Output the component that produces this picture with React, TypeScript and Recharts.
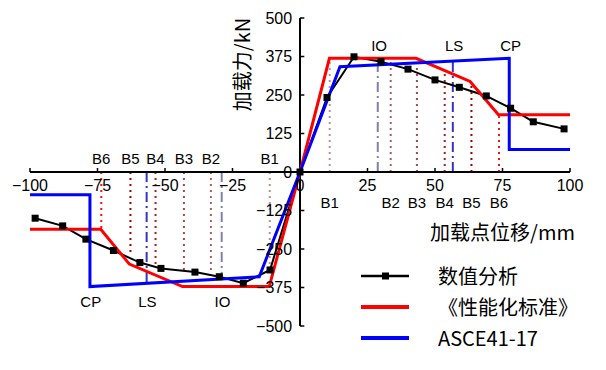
import { LineChart, Line, XAxis, YAxis, ReferenceLine, ReferenceDot, Legend } from 'recharts';

// numerical analysis curve (mm, kN)
const simX = [-98.1, -87.9, -79.3, -69.1, -59.3, -51.5, -38.9, -29.9, -21, -11.1, 0, 10, 20, 30, 40, 50, 59, 69, 78, 86.4, 97.8];
const simY = [-150, -175, -218, -255, -294, -313, -325, -340, -361, -318, 0, 242, 374, 358, 334, 299, 275, 247, 207, 163, 140];

// 《性能化标准》 backbone
const codeX = [-100, -73.8, -63.2, -43.5, -11.4, 0, 10.9, 43, 63, 73.5, 100];
const codeY = [-186, -186, -299, -372, -372, 0, 369, 369, 294, 186, 186];

// ASCE41-17 backbone
const asceX = [-100, -77.8, -77.8, -15.1, 0, 14.8, 77.5, 77.5, 100];
const asceY = [-74, -74, -372, -340, 0, 342, 369, 73, 73];

const xTicks = [-100, -75, -50, -25, 0, 25, 50, 75, 100];
const xTickLabels = ['−100', '−75', '−50', '−25', '0', '25', '50', '75', '100'];
const yTicks = [-500, -375, -250, -125, 0, 125, 250, 375, 500];
const yTickLabels = ['−500', '−375', '−250', '−125', '0', '125', '250', '375', '500'];

// B1..B6 limit states
const bNames = ['B1', 'B2', 'B3', 'B4', 'B5', 'B6'];
const bPosX = [11, 33.6, 43.3, 53.6, 63.5, 73.7];
const bPosTop = [369, 369, 369, 330, 292, 188];
const bNegX = [-11.2, -33, -43, -53.5, -62.8, -73.6];
const bNegBottom = [-318, -331, -320, -305, -272, -186];
const bColors = ['#bc8f8f', '#a86060', '#a44848', '#a82020', '#a00000', '#ff1010'];

// ASCE performance levels
const levelNames = ['IO', 'LS', 'CP'];
const levelPosX = [28.8, 56.6, 77.5];
const levelPosTop = [352, 364];
const levelNegX = [-29, -56.8, -77.8];
const levelNegBottom = [-348, -360];
const levelColors = ['#8080b0', '#3535c0'];

const legendNames = ['数值分析', '《性能化标准》', 'ASCE41-17'];
const legendColors = ['#000000', '#ff0000', '#0000ff'];

const toPts = (xs: number[], ys: number[]) => xs.map((x, i) => ({ x, y: ys[i] }));
const simData = toPts(simX, simY);
const codeData = toPts(codeX, codeY);
const asceData = toPts(asceX, asceY);

const numFont = '"Liberation Sans", Arial, sans-serif';
const cjkFont = '"Noto Sans CJK SC", sans-serif';

const textShape = (label: string, anchor: string, size = 16, font = numFont, rotate = 0) => (p: any) => (
  <text
    x={p.cx}
    y={p.cy}
    textAnchor={anchor}
    dominantBaseline="central"
    fontSize={size}
    fontFamily={font}
    fill="#000"
    transform={rotate ? `rotate(${rotate} ${p.cx} ${p.cy})` : undefined}
  >
    {label}
  </text>
);

const SquareDot = (p: any) => (
  <rect key={`d-${p.index}`} x={p.cx - 3.5} y={p.cy - 3.5} width={7} height={7} fill="#000" />
);

const renderLegend = () => (
  <div style={{ fontFamily: cjkFont, fontSize: 20, color: '#000' }}>
    {legendNames.map((name, i) => (
      <div key={name} style={{ display: 'flex', alignItems: 'center', height: 31 }}>
        <svg width={50} height={10}>
          <line x1={1} y1={5} x2={49} y2={5} stroke={legendColors[i]} strokeWidth={i === 0 ? 2.5 : 4} />
          {i === 0 && <rect x={22} y={1.5} width={7} height={7} fill="#000" />}
        </svg>
        <span style={{ marginLeft: 28, lineHeight: '31px' }}>{name}</span>
      </div>
    ))}
  </div>
);

export default function App() {
  return (
    <div style={{ position: 'absolute', left: 0, top: 0, width: 606, height: 370, background: '#fff' }}>
      <LineChart width={606} height={370} margin={{ top: 18, right: 36, bottom: 44, left: 30 }}>
        <XAxis type="number" dataKey="x" domain={[-100, 100]} hide />
        <YAxis type="number" dataKey="y" domain={[-500, 500]} hide />

        {/* B-level dotted markers */}
        {bPosX.map((x, i) => (
          <ReferenceLine key={`bp${i}`} segment={[{ x, y: 0 }, { x, y: bPosTop[i] }]} stroke={bColors[i]} strokeWidth={2} strokeDasharray="2 4" />
        ))}
        {bNegX.map((x, i) => (
          <ReferenceLine key={`bn${i}`} segment={[{ x, y: 0 }, { x, y: bNegBottom[i] }]} stroke={bColors[i]} strokeWidth={2} strokeDasharray="2 4" />
        ))}
        {levelPosTop.map((top, i) => (
          <ReferenceLine key={`lp${i}`} segment={[{ x: levelPosX[i], y: 0 }, { x: levelPosX[i], y: top }]} stroke={levelColors[i]} strokeWidth={2} strokeDasharray="10 4 2 4" />
        ))}
        {levelNegBottom.map((bot, i) => (
          <ReferenceLine key={`ln${i}`} segment={[{ x: levelNegX[i], y: 0 }, { x: levelNegX[i], y: bot }]} stroke={levelColors[i]} strokeWidth={2} strokeDasharray="10 4 2 4" />
        ))}

        {/* axes through origin */}
        <ReferenceLine segment={[{ x: -100, y: 0 }, { x: 100, y: 0 }]} stroke="#000" strokeWidth={2} />
        <ReferenceLine segment={[{ x: 0, y: -500 }, { x: 0, y: 500 }]} stroke="#000" strokeWidth={2} />
        {xTicks.map((t) => (
          <ReferenceLine key={`xt${t}`} segment={[{ x: t, y: 0 }, { x: t, y: 13 }]} stroke="#000" strokeWidth={1.5} />
        ))}
        {yTicks.map((t) => (
          <ReferenceLine key={`yt${t}`} segment={[{ x: 0, y: t }, { x: 1.6, y: t }]} stroke="#000" strokeWidth={1.5} />
        ))}
        {xTicks.map((t, i) => (
          <ReferenceDot key={`xl${t}`} x={t} y={-44} r={0} shape={textShape(xTickLabels[i], 'middle')} />
        ))}
        {yTicks.map((t, i) => (
          <ReferenceDot key={`yl${t}`} x={-2.9} y={t} r={0} shape={textShape(yTickLabels[i], 'end')} />
        ))}

        <Line data={simData} dataKey="y" type="linear" stroke="#000" strokeWidth={2} dot={SquareDot} isAnimationActive={false} />
        <Line data={codeData} dataKey="y" type="linear" stroke="#ff0000" strokeWidth={3} dot={false} isAnimationActive={false} />
        <Line data={asceData} dataKey="y" type="linear" stroke="#0000ff" strokeWidth={3} dot={false} isAnimationActive={false} />

        {/* limit state labels */}
        {bPosX.map((x, i) => (
          <ReferenceDot key={`bpl${i}`} x={x} y={-99} r={0} shape={textShape(bNames[i], 'middle', 15)} />
        ))}
        {bNegX.map((x, i) => (
          <ReferenceDot key={`bnl${i}`} x={x} y={44} r={0} shape={textShape(bNames[i], 'middle', 15)} />
        ))}
        {levelPosX.map((x, i) => (
          <ReferenceDot key={`lpl${i}`} x={x + 0.5} y={410} r={0} shape={textShape(levelNames[i], 'middle', 15)} />
        ))}
        {levelNegX.map((x, i) => (
          <ReferenceDot key={`lnl${i}`} x={x + 0.3} y={-421} r={0} shape={textShape(levelNames[i], 'middle', 15)} />
        ))}

        {/* axis titles */}
        <ReferenceDot x={-21.5} y={349} r={0} shape={textShape('加载力/kN', 'middle', 20, cjkFont, -90)} />
        <ReferenceDot x={75} y={-193} r={0} shape={textShape('加载点位移/mm', 'middle', 20, cjkFont)} />

        <Legend
          layout="vertical"
          align="center"
          verticalAlign="middle"
          content={renderLegend}
          wrapperStyle={{ left: 360, top: 260, width: 240, height: 95 }}
        />
      </LineChart>
    </div>
  );
}
